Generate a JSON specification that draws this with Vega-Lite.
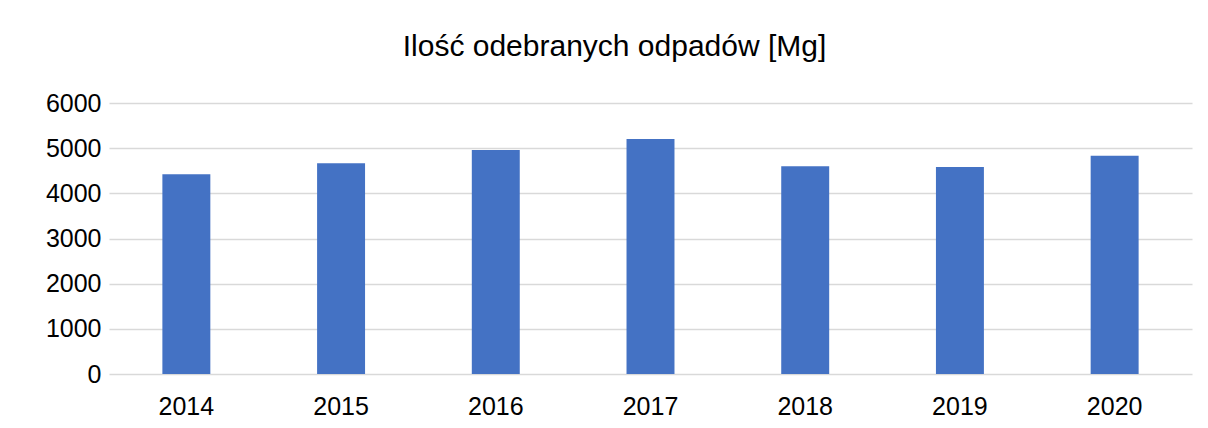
{
  "$schema": "https://vega.github.io/schema/vega-lite/v6.json",
  "width": 1083,
  "height": 271,
  "autosize": {"type": "none"},
  "padding": {"left": 109, "top": 103, "right": 16, "bottom": 54},
  "background": "white",
  "title": {
    "text": "Ilość odebranych odpadów [Mg]",
    "font": "Liberation Sans",
    "fontSize": 30,
    "fontWeight": "normal",
    "color": "#000000",
    "anchor": "middle",
    "baseline": "alphabetic",
    "offset": 5,
    "dx": -36
  },
  "data": {
    "values": [
      {"rok": "2014", "wartosc": 4421},
      {"rok": "2015", "wartosc": 4665},
      {"rok": "2016", "wartosc": 4960},
      {"rok": "2017", "wartosc": 5204},
      {"rok": "2018", "wartosc": 4599},
      {"rok": "2019", "wartosc": 4583},
      {"rok": "2020", "wartosc": 4834}
    ]
  },
  "mark": {"type": "bar", "color": "#4472C4"},
  "encoding": {
    "x": {
      "field": "rok",
      "type": "ordinal",
      "scale": {"paddingInner": 0.69, "paddingOuter": 0.345},
      "axis": {
        "title": null,
        "labelAngle": 0,
        "ticks": false,
        "domain": false,
        "labelFont": "Liberation Sans",
        "labelFontSize": 25,
        "labelColor": "#000000",
        "labelBaseline": "alphabetic",
        "labelPadding": 40
      }
    },
    "y": {
      "field": "wartosc",
      "type": "quantitative",
      "scale": {"domain": [0, 6000], "nice": false},
      "axis": {
        "title": null,
        "values": [0, 1000, 2000, 3000, 4000, 5000, 6000],
        "format": "d",
        "ticks": false,
        "domain": false,
        "labelFont": "Liberation Sans",
        "labelFontSize": 25,
        "labelColor": "#000000",
        "labelPadding": 8,
        "gridColor": "#d9d9d9",
        "gridWidth": 1.5
      }
    }
  },
  "config": {"view": {"stroke": null}}
}
